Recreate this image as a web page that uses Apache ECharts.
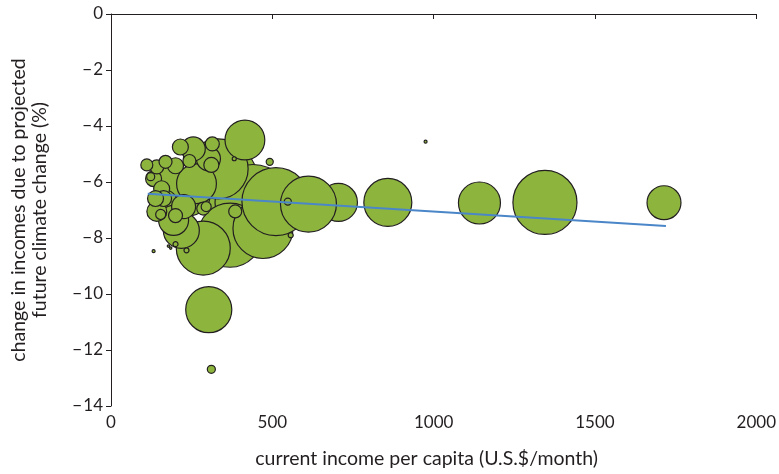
<!DOCTYPE html>
<html>
<head>
<meta charset="utf-8">
<script src="https://cdn.jsdelivr.net/npm/echarts@6/dist/echarts.min.js"></script>
<style>
  html, body { margin: 0; padding: 0; background: #ffffff; }
  #chart { width: 779px; height: 474px; }
</style>
</head>
<body>
<div id="chart"></div>
<script>
// Current income per capita (U.S.$/month), listed in drawing order
const income = [342, 440, 369, 471, 511, 286,
  332, 240, 194, 218, 163, 271,
  705, 612, 858, 1142, 1345, 1714, 303, 415, 265, 194, 302, 255, 225, 142,
  200, 215, 132, 157, 163, 138, 142, 314, 311, 200, 169, 243, 286, 385, 111, 154, 295, 123, 311, 492, 548, 557, 200, 234, 382, 132, 178, 185, 975];
// Projected change in income due to climate change (%)
const change = [-5.88, -6.73, -7.90, -7.66, -6.70, -8.36,
  -5.53, -6.42, -5.95, -7.73, -6.77, -5.17,
  -6.73, -6.79, -6.73, -6.75, -6.73, -6.74, -10.56, -4.50, -6.06, -7.37, -5.17, -4.82, -6.88, -7.05,
  -5.42, -4.75, -5.88, -6.24, -6.59, -6.59, -5.46, -4.64, -5.39, -7.20, -5.28, -5.25, -6.95, -7.05, -5.39, -7.16, -6.88, -5.81, -12.69, -5.28, -6.70, -7.90, -8.22, -8.44, -5.17, -8.47, -8.29, -8.36, -4.56];
// Population (millions) that sets each bubble's area
const population = [144, 160, 114, 100, 128, 81,
  100, 54, 28, 36, 22, 25,
  40, 87, 64, 49, 114, 32, 59, 44, 44, 25, 16, 16, 16, 11,
  7.1, 7.1, 7.1, 7.1, 7.1, 7.1, 5.4, 5.4, 6.3, 5.4, 4.7, 4.7, 4.7, 4.7, 4.0, 2.8, 2.8, 1.8, 1.8, 1.4, 1.4, 0.7, 0.7, 0.7, 0.45, 0.25, 0.16, 0.16, 0.25];

// Fitted trend line end points
const trendIncome = [114, 1720];
const trendChange = [-6.42, -7.57];

// Axis ticks
const xTicks = [0, 500, 1000, 1500, 2000];
const yTicks = [0, -2, -4, -6, -8, -10, -12, -14];

const bubbles = income.map((x, i) => [x, change[i], population[i]]);
const trend = trendIncome.map((x, i) => [x, trendChange[i]]);

const FONT = 'Lato';
const INK = '#231F20';

const chart = echarts.init(document.getElementById('chart'), null, { renderer: 'canvas' });
chart.setOption({
  animation: false,
  backgroundColor: '#ffffff',
  grid: { left: 107, right: 22, top: 14, bottom: 65, containLabel: false },
  xAxis: {
    type: 'value',
    min: xTicks[0], max: xTicks[xTicks.length - 1], interval: 500,
    name: 'current income per capita (U.S.$/month)',
    nameLocation: 'middle', nameGap: 43,
    nameTextStyle: { fontFamily: FONT, fontSize: 19.5, color: INK, padding: [0, 14, 0, 0] },
    axisLine: { show: true, lineStyle: { color: INK, width: 1 } },
    axisTick: { show: true, inside: false, length: 5, lineStyle: { color: INK } },
    axisLabel: { fontFamily: FONT, fontSize: 17, color: INK, margin: 8, formatter: v => String(v) },
    splitLine: { show: false }
  },
  yAxis: {
    type: 'value',
    min: yTicks[yTicks.length - 1], max: yTicks[0], interval: 2,
    name: 'change in incomes due to projected\nfuture climate change (%)',
    nameLocation: 'middle', nameRotate: 90, nameGap: 61,
    nameTextStyle: { fontFamily: FONT, fontSize: 19.5, color: INK, lineHeight: 21 },
    axisLine: { show: true, lineStyle: { color: INK, width: 1 } },
    axisTick: { show: true, inside: false, length: 5, lineStyle: { color: INK } },
    axisLabel: {
      fontFamily: FONT, fontSize: 17, color: INK, margin: 8,
      formatter: v => String(v).replace('-', '\u2212\u200A')
    },
    splitLine: { show: false }
  },
  series: [
    {
      type: 'scatter',
      data: bubbles,
      symbolSize: d => 6 * Math.sqrt(d[2]),
      itemStyle: { color: '#8DB53E', borderColor: INK, borderWidth: 1.2, opacity: 1 },
      z: 2
    },
    {
      type: 'line',
      data: trend,
      symbol: 'none',
      lineStyle: { color: '#4A86C8', width: 2 },
      z: 3
    }
  ]
});
</script>
</body>
</html>
